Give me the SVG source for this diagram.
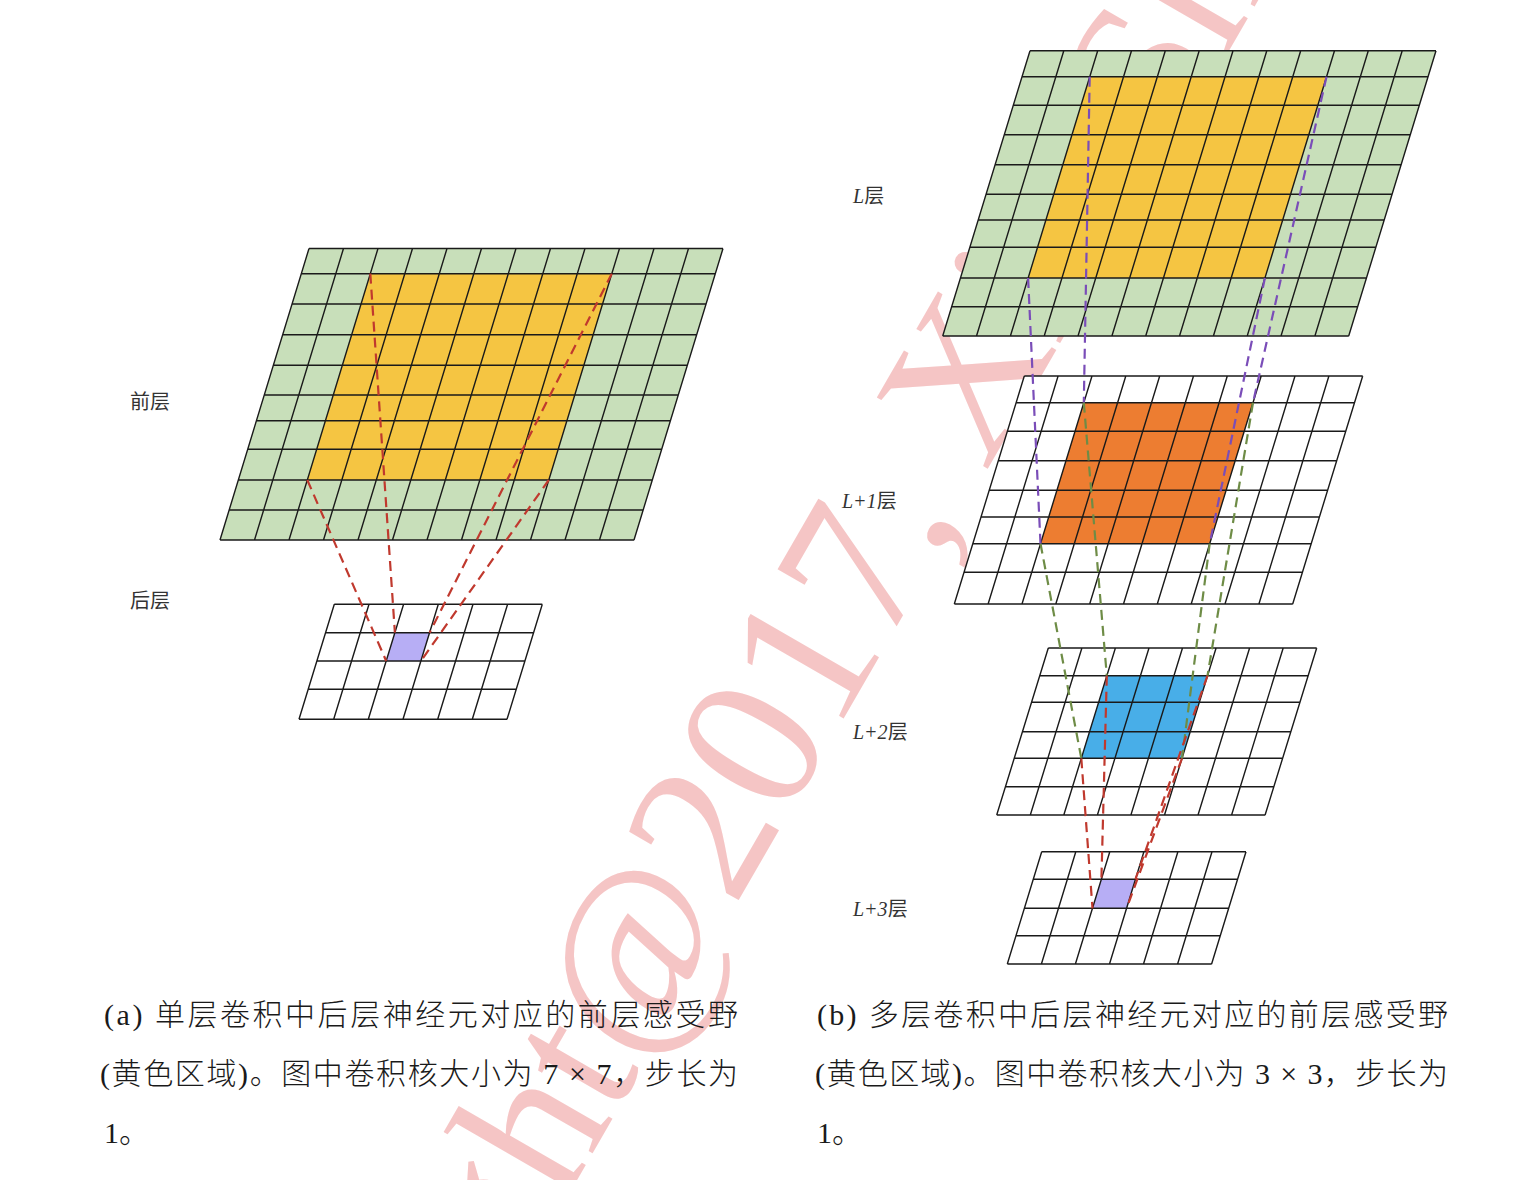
<svg xmlns="http://www.w3.org/2000/svg" width="1536" height="1180" viewBox="0 0 1536 1180">
<style>
.grid{fill:none;stroke:#1a1a1a;stroke-width:1.4}
.bg-green{fill:#C8DFBA}
.bg-white{fill:#FFFFFF}
.yellow{fill:#F5C542}
.orange{fill:#ED7D31}
.blue{fill:#48AEE8}
.violet{fill:#B7AEF5}
.dash{fill:none;stroke-width:2.2;stroke-dasharray:10 6}
.red{stroke:#C0392E}
.purple{stroke:#7A4DB8}
.green{stroke:#6E8C46}
.lbl{font-family:"Noto Sans CJK SC","Noto Sans",sans-serif;font-size:20px;fill:#333}
.lbl .it{font-family:"Liberation Serif",serif;font-style:italic}
.cap{font-family:"Liberation Serif","Noto Sans CJK SC",serif;font-size:30px;fill:#1a1a1a;font-weight:300}
.wm{font-family:"Liberation Serif",serif;font-size:201px;fill:#F5C5C5}
</style>

<g id="watermark">
<text class="wm" transform="translate(234,1774) rotate(-60)">Copyright@2017, Xiu-Shen Wei</text>
</g>

<!-- (a) front layer -->
<g id="front-layer">
<polygon class="bg-green" points="309,248.5 723,248.5 634,540 220,540"/>
<polygon class="yellow" points="370.3,273.7 611.8,273.7 548.8,480 307.3,480"/>
<path class="grid" d="M309,248.5H723M301.3,273.7H715.3M292.1,304H706.1M282.7,334.7H696.7M273.3,365.3H687.3M264.3,395H678.3M256.4,420.7H670.4M247.7,449.3H661.7M238.3,480H652.3M229.2,510H643.2M220,540H634
M309,248.5L220,540M343.5,248.5L254.5,540M378,248.5L289,540M412.5,248.5L323.5,540M447,248.5L358,540M481.5,248.5L392.5,540M516,248.5L427,540M550.5,248.5L461.5,540M585,248.5L496,540M619.5,248.5L530.5,540M654,248.5L565,540M688.5,248.5L599.5,540M723,248.5L634,540"/>
<text class="lbl" x="130" y="409">前层</text>
</g>

<!-- (a) back layer -->
<g id="back-layer">
<polygon class="bg-white" points="334.3,604.3 542.3,604.3 507,719.3 299,719.3"/>
<polygon class="violet" points="394.9,632.7 429.6,632.7 420.9,661 386.2,661"/>
<path class="grid" d="M334.3,604.3H542.3M325.6,632.7H533.6M316.9,661H524.9M308.2,689.3H516.2M299,719.3H507
M334.3,604.3L299,719.3M369,604.3L333.7,719.3M403.6,604.3L368.3,719.3M438.3,604.3L403,719.3M473,604.3L437.7,719.3M507.6,604.3L472.3,719.3M542.3,604.3L507,719.3"/>
<text class="lbl" x="130" y="608">后层</text>
</g>

<!-- (b) layer L -->
<g id="layer-L">
<polygon class="bg-green" points="1030,50.7 1436,50.7 1348.7,336 942.7,336"/>
<polygon class="yellow" points="1089.7,76.7 1326.5,76.7 1264.9,278 1028.1,278"/>
<path class="grid" d="M1030,50.7H1436M1022,76.7H1428M1013.3,105.3H1419.3M1004.3,134.7H1410.3M995.1,164.7H1401.1M986.1,194.3H1392.1M978.2,220H1384.2M969.8,247.3H1375.8M960.4,278H1366.4M951.7,306.7H1357.7M942.7,336H1348.7
M1030,50.7L942.7,336M1063.8,50.7L976.5,336M1097.7,50.7L1010.4,336M1131.5,50.7L1044.2,336M1165.3,50.7L1078,336M1199.2,50.7L1111.9,336M1233,50.7L1145.7,336M1266.8,50.7L1179.5,336M1300.7,50.7L1213.4,336M1334.5,50.7L1247.2,336M1368.3,50.7L1281,336M1402.2,50.7L1314.9,336M1436,50.7L1348.7,336"/>
<text class="lbl" x="853" y="203"><tspan class="it">L</tspan>层</text>
</g>

<!-- (b) layer L+1 -->
<g id="layer-L1">
<polygon class="bg-white" points="1024.3,376 1362.7,376 1292.7,604 954.3,604"/>
<polygon class="orange" points="1083.8,402.7 1253,402.7 1209.7,543.7 1040.5,543.7"/>
<path class="grid" d="M1024.3,376H1362.7M1016.1,402.7H1354.5M1007.3,431.3H1345.7M998.3,460.7H1336.7M989.2,490.3H1327.6M981,517H1319.4M972.8,543.7H1311.2M964,572.3H1302.4M954.3,604H1292.7
M1024.3,376L954.3,604M1058.1,376L988.1,604M1092,376L1022,604M1125.8,376L1055.8,604M1159.7,376L1089.7,604M1193.5,376L1123.5,604M1227.3,376L1157.3,604M1261.2,376L1191.2,604M1295,376L1225,604M1328.9,376L1258.9,604M1362.7,376L1292.7,604"/>
<text class="lbl" x="842" y="508"><tspan class="it">L+1</tspan>层</text>
</g>

<!-- (b) layer L+2 -->
<g id="layer-L2">
<polygon class="bg-white" points="1048.3,648 1316.7,648 1265.1,815 996.7,815"/>
<polygon class="blue" points="1106.8,675.7 1207.5,675.7 1182,758.3 1081.3,758.3"/>
<path class="grid" d="M1048.3,648H1316.7M1039.7,675.7H1308.1M1031.5,702.3H1299.9M1022.4,731.7H1290.8M1014.2,758.3H1282.6M1005.4,786.7H1273.8M996.7,815H1265.1
M1048.3,648L996.7,815M1081.9,648L1030.3,815M1115.4,648L1063.8,815M1149,648L1097.4,815M1182.5,648L1130.9,815M1216.1,648L1164.5,815M1249.6,648L1198,815M1283.2,648L1231.6,815M1316.7,648L1265.1,815"/>
<text class="lbl" x="853" y="739"><tspan class="it">L+2</tspan>层</text>
</g>

<!-- (b) layer L+3 -->
<g id="layer-L3">
<polygon class="bg-white" points="1041.7,851.7 1246,851.7 1211.6,964 1007.3,964"/>
<polygon class="violet" points="1101.4,879.3 1135.4,879.3 1126.6,908.3 1092.5,908.3"/>
<path class="grid" d="M1041.7,851.7H1246M1033.3,879.3H1237.6M1024.4,908.3H1228.7M1016,935.7H1220.3M1007.3,964H1211.6
M1041.7,851.7L1007.3,964M1075.8,851.7L1041.4,964M1109.8,851.7L1075.4,964M1143.9,851.7L1109.5,964M1177.9,851.7L1143.5,964M1212,851.7L1177.6,964M1246,851.7L1211.6,964"/>
<text class="lbl" x="853" y="916"><tspan class="it">L+3</tspan>层</text>
</g>

<g id="connectors">
<path class="dash red" d="M370.3,273.7L394.9,632.7M611.8,273.7L429.6,632.7M307.3,480L386.2,661M548.8,480L420.9,661"/>
<path class="dash purple" d="M1089.7,76.7L1083.8,402.7M1028.1,278L1040.5,543.7M1326.5,76.7L1253,402.7M1264.9,278L1209.7,543.7"/>
<path class="dash green" d="M1083.8,402.7L1106.8,675.7M1040.5,543.7L1081.3,758.3M1253,402.7L1207.5,675.7M1209.7,543.7L1182,758.3"/>
<path class="dash red" d="M1106.8,675.7L1101.4,879.3M1081.3,758.3L1092.5,908.3M1207.5,675.7L1135.4,879.3M1182,758.3L1126.6,908.3"/>
</g>

<g id="caption-a">
<text class="cap" x="104" y="1025" textLength="634" lengthAdjust="spacing">(a) 单层卷积中后层神经元对应的前层感受野</text>
<text class="cap" x="100" y="1084" textLength="638" lengthAdjust="spacing">(黄色区域)。图中卷积核大小为 7 × 7，步长为</text>
<text class="cap" x="104" y="1143">1。</text>
</g>
<g id="caption-b">
<text class="cap" x="817" y="1025" textLength="631" lengthAdjust="spacing">(b) 多层卷积中后层神经元对应的前层感受野</text>
<text class="cap" x="815" y="1084" textLength="633" lengthAdjust="spacing">(黄色区域)。图中卷积核大小为 3 × 3，步长为</text>
<text class="cap" x="817" y="1143">1。</text>
</g>
</svg>
